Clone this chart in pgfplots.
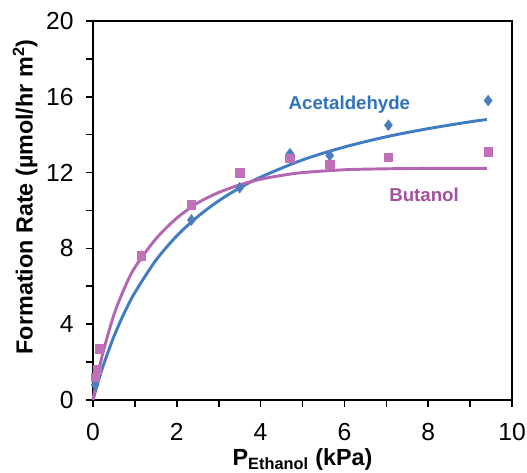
\documentclass[border=0pt]{standalone}
\usepackage{pgfplots}
\pgfplotsset{compat=1.18}
\usepackage{fontspec}
\setmainfont{Liberation Sans}
\definecolor{acblue}{HTML}{3F7CC4}
\definecolor{acmark}{HTML}{4A7EC0}
\definecolor{butpur}{HTML}{B466B0}
\definecolor{butmark}{HTML}{C070B8}
\definecolor{labblue}{HTML}{2E72BE}
\definecolor{labpur}{HTML}{A4509E}
\begin{document}
\begin{tikzpicture}
\useasboundingbox (0,0) rectangle (395.25pt,354.75pt);
\begin{axis}[
  at={(69.75pt,54.75pt)}, anchor=south west,
  scale only axis, width=314.25pt, height=284.25pt,
  xmin=0, xmax=10, ymin=0, ymax=20,
  xtick={0,2,...,10}, minor xtick={1,3,...,9},
  ytick={0,4,...,20}, minor ytick={2,6,...,18},
  tick align=outside, xtick pos=bottom, ytick pos=left,
  major tick length=5pt, minor tick length=5pt,
  every tick/.style={black, line width=1.2pt},
  axis line style={line width=1.3pt},
  /pgf/number format/assume math mode=true,
  ticklabel style={font=\fontsize{18.5}{22}\selectfont},
  xticklabel style={yshift=-9pt},
  yticklabel style={xshift=-6pt},
  xlabel={\textbf{P\textsubscript{Ethanol} (kPa)}},
  ylabel={\textbf{Formation Rate (µmol/hr m\textsuperscript{2})}},
  label style={font=\fontsize{17.5}{20}\selectfont},
  xlabel style={at={(axis description cs:0.5,-0.172)}, anchor=base},
  ylabel style={at={(axis description cs:-0.162,0.536)}, anchor=center},
  clip=false,
]
% fitted curves
\addplot[acblue, line width=2.2pt, smooth] coordinates {
(0,0) (0.1,0.79) (0.25,1.85) (0.5,3.36) (0.75,4.61) (1,5.67) (1.5,7.37) (2,8.66)
(2.5,9.68) (3,10.51) (3.5,11.19) (4,11.76) (5,12.67) (6,13.35) (7,13.89) (8,14.32) (9,14.68) (9.4,14.80)};
\addplot[butpur, line width=2.2pt, smooth] coordinates {
(0,0) (0.1,1.2) (0.25,2.6) (0.5,4.5) (0.75,5.9) (1,7.0) (1.5,8.5) (2,9.6) (2.5,10.4)
(3,10.95) (3.5,11.35) (4,11.65) (4.5,11.85) (5,12.0) (6,12.15) (7,12.2) (8,12.22) (9.4,12.22)};
% data
\addplot[only marks, mark=diamond*, mark size=4pt, acmark, mark options={fill=acmark, draw=acmark}] coordinates {
(0.05,0.8) (0.1,1.3) (1.15,7.6) (2.35,9.5) (3.5,11.2) (4.7,13.0) (5.65,12.9) (7.05,14.5) (9.43,15.8)};
\addplot[only marks, mark=square*, mark size=3.2pt, butmark, mark options={fill=butmark, draw=butmark}] coordinates {
(0.05,1.2) (0.1,1.6) (0.15,2.7) (1.15,7.6) (2.35,10.3) (3.5,12.0) (4.7,12.75) (5.65,12.45) (7.05,12.8) (9.43,13.1)};
\node[labblue, font=\fontsize{14}{17}\selectfont\bfseries] at (axis cs:6.12,15.57) {Acetaldehyde};
\node[labpur, font=\fontsize{14}{17}\selectfont\bfseries] at (axis cs:7.9,10.82) {Butanol};
\end{axis}
\end{tikzpicture}
\end{document}
